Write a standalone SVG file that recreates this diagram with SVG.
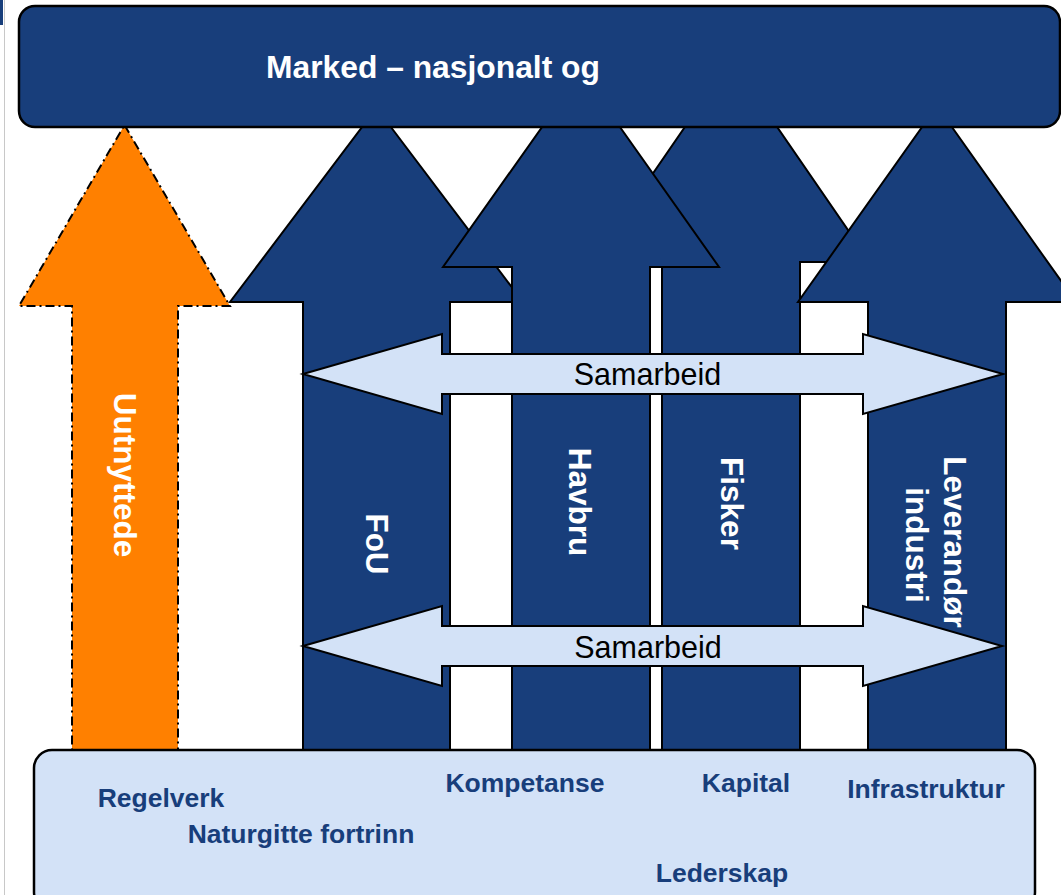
<svg xmlns="http://www.w3.org/2000/svg" width="1061" height="895" viewBox="0 0 1061 895">
  <style>
    .blue { fill: #183e7b; stroke: #000; stroke-width: 2; stroke-linejoin: miter; }
    .orange { fill: #ff8000; stroke: #000; stroke-width: 2; stroke-dasharray: 9 4 2 4; }
    .light { fill: #d3e2f7; stroke: #000; stroke-width: 2; }
    .vlabel { font-family: "Liberation Sans", Arial, sans-serif; font-weight: bold; font-size: 31.5px; fill: #fff; text-anchor: middle; }
    .sam { font-family: "Liberation Sans", Arial, sans-serif; font-size: 30.5px; fill: #000; text-anchor: middle; }
    .base { font-family: "Liberation Sans", Arial, sans-serif; font-weight: bold; font-size: 26.5px; fill: #183e7b; text-anchor: middle; }
  </style>
  <rect x="0" y="0" width="1061" height="895" fill="#fff"/>
  <rect x="0" y="0" width="3" height="25" fill="#183e7b"/>
  <rect x="4" y="0" width="1" height="895" fill="#c8c8c8"/>

  <g id="node-uutnyttede">
    <polygon class="orange" points="124.5,125 230,306 178,306 178,750 72,750 72,306 19,306"/>
    <text class="vlabel" transform="translate(114,475) rotate(90)">Uutnyttede</text>
  </g>
  <g id="node-fou">
    <polygon class="blue" points="376.5,108 523,302 450,302 450,752 303,752 303,302 230,302"/>
    <text class="vlabel" transform="translate(366,544) rotate(90)">FoU</text>
  </g>
  <g id="node-fisker">
    <polygon class="blue" points="731,60 870,262 800,262 800,752 662,752 662,262 592,262"/>
    <text class="vlabel" transform="translate(721,503.5) rotate(90)">Fisker</text>
  </g>
  <g id="node-havbru">
    <polygon class="blue" points="581,72 719,267 650,267 650,752 512,752 512,267 443,267"/>
    <text class="vlabel" transform="translate(569,502) rotate(90)">Havbru</text>
  </g>
  <g id="node-leverandor">
    <polygon class="blue" points="937,106 1076,302 1006,302 1006,752 868,752 868,302 798,302"/>
    <text class="vlabel" transform="translate(944,542) rotate(90)">Leverandør</text>
    <text class="vlabel" transform="translate(906,545) rotate(90)">industri</text>
  </g>

  <g id="node-marked">
    <rect x="19" y="6" width="1041" height="121" rx="16" ry="16" fill="#183e7b" stroke="#000" stroke-width="2.5"/>
    <text x="266" y="78" font-family="'Liberation Sans', Arial, sans-serif" font-weight="bold" font-size="31.8" fill="#fff">Marked – nasjonalt og</text>
  </g>

  <g id="connectors">
    <g id="samarbeid-1">
      <polygon class="light" points="303,374 442,334 442,354 863,354 863,334 1003,374 863,414 863,394 442,394 442,414"/>
      <text class="sam" x="647.5" y="385">Samarbeid</text>
    </g>
    <g id="samarbeid-2">
      <polygon class="light" points="303,646 442,606 442,626 863,626 863,606 1002,646 863,686 863,666 442,666 442,686"/>
      <text class="sam" x="648" y="658">Samarbeid</text>
    </g>
  </g>

  <g id="node-base">
    <rect x="34" y="750" width="1001" height="160" rx="18" ry="18" fill="#d3e2f7" stroke="#000" stroke-width="2.5"/>
    <text class="base" x="161" y="807">Regelverk</text>
    <text class="base" x="301" y="843">Naturgitte fortrinn</text>
    <text class="base" x="525" y="792">Kompetanse</text>
    <text class="base" x="746" y="792">Kapital</text>
    <text class="base" x="926" y="798">Infrastruktur</text>
    <text class="base" x="722" y="882">Lederskap</text>
  </g>
</svg>
